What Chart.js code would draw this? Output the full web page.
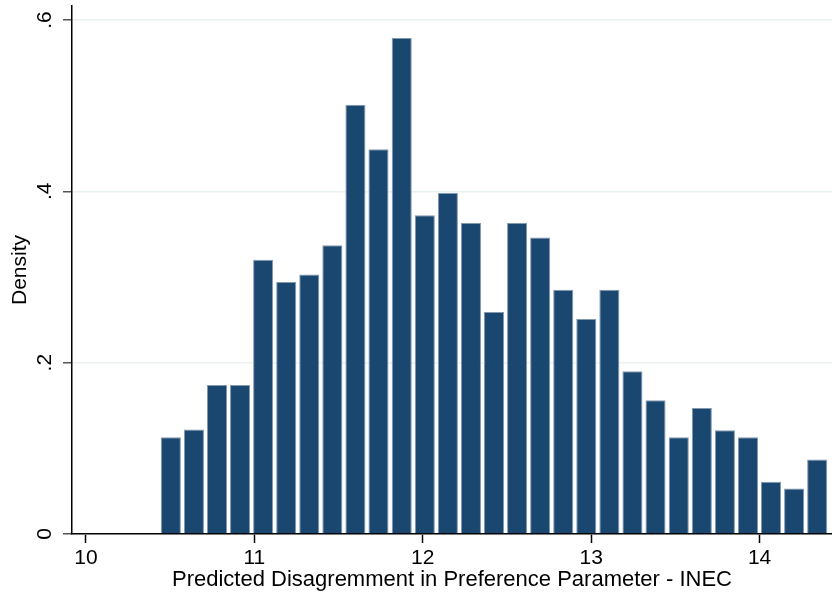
<!DOCTYPE html>
<html>
<head>
<meta charset="utf-8">
<script src="https://cdn.jsdelivr.net/npm/chart.js@4"></script>
<style>
  body { margin: 0; background: #fff; }
  #chart { display: block; }
</style>
</head>
<body>
<canvas id="chart" width="832" height="596"></canvas>
<script>
// bin centres and heights of the histogram
let binCenters = [10.504, 10.641, 10.778, 10.915, 11.052, 11.189, 11.326, 11.463, 11.600, 11.737,
  11.875, 12.012, 12.149, 12.286, 12.423, 12.560, 12.697, 12.834, 12.971, 13.108,
  13.245, 13.382, 13.520, 13.657, 13.794, 13.931, 14.068, 14.205, 14.342]
let density = [0.113, 0.122, 0.174, 0.174, 0.320, 0.294, 0.303, 0.337, 0.501, 0.449,
  0.579, 0.372, 0.398, 0.363, 0.259, 0.363, 0.346, 0.285, 0.251, 0.285,
  0.190, 0.156, 0.113, 0.147, 0.121, 0.113, 0.061, 0.053, 0.087]

let xTicks = [10, 11, 12, 13, 14]
let yTicks = [0, 0.2, 0.4, 0.6]
let yTickLabels = ['0', '.2', '.4', '.6']

let fontFamily = "'Liberation Sans', Arial, Helvetica, sans-serif"
let font = { family: fontFamily, size: 21 }

let points = binCenters.map((x, i) => ({ x: x, y: density[i] }))

const config = {
  type: 'bar',
  data: {
    datasets: [{
      label: 'Density',
      data: points,
      backgroundColor: '#1a476f',
      borderColor: '#8399b0',
      borderWidth: 1,
      barPercentage: 0.87,
      categoryPercentage: 1.0
    }]
  },
  options: {
    responsive: false,
    animation: false,
    layout: { padding: { top: 6, right: 0, left: 0, bottom: 0 } },
    plugins: {
      legend: { display: false },
      tooltip: { enabled: false }
    },
    scales: {
      x: {
        type: 'linear',
        offset: false,
        min: 9.917,
        max: 14.43,
        z: 1,
        afterFit: (s) => { s.height = 62; s.paddingLeft = 0; s.paddingRight = 0 },
        afterBuildTicks: (s) => { s.ticks = xTicks.map(v => ({ value: v })) },
        grid: { offset: false, drawOnChartArea: false, tickLength: 9, tickColor: '#000', tickWidth: 1.5 },
        border: { color: '#000', width: 1.5 },
        ticks: {
          color: '#000',
          font: font,
          padding: 3,
          maxRotation: 0,
          callback: (v) => String(v)
        },
        title: {
          display: true,
          text: 'Predicted Disagremment in Preference Parameter - INEC',
          color: '#000',
          font: { family: fontFamily, size: 22 },
          padding: { top: 0, bottom: 3 }
        }
      },
      y: {
        type: 'linear',
        min: 0,
        max: 0.6163,
        afterFit: (s) => { s.width = 72; s.paddingTop = 0; s.paddingBottom = 0 },
        afterBuildTicks: (s) => { s.ticks = yTicks.map(v => ({ value: v })) },
        grid: { color: '#eaf2f3', lineWidth: 1.5, tickLength: 9, tickColor: '#555', tickWidth: 1.5 },
        border: { color: '#000', width: 1.5 },
        ticks: {
          color: '#000',
          font: font,
          padding: 9,
          minRotation: 90,
          maxRotation: 90,
          crossAlign: 'center',
          callback: (v) => yTickLabels[yTicks.indexOf(v)]
        },
        title: {
          display: true,
          text: 'Density',
          color: '#000',
          font: font,
          padding: { top: 8, bottom: 0 }
        }
      }
    }
  }
}

const chart = new Chart(document.getElementById('chart'), config)
</script>
</body>
</html>
